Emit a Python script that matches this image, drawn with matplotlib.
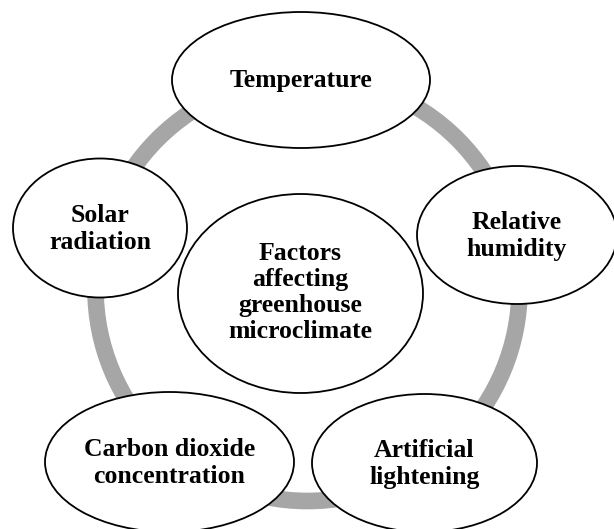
import matplotlib
matplotlib.use("Agg")
import matplotlib.pyplot as plt
from matplotlib.patches import Ellipse, Circle

# Node labels
center_label = "Factors\naffecting\ngreenhouse\nmicroclimate"
factor_labels = [
    "Temperature",
    "Relative\nhumidity",
    "Artificial\nlightening",
    "Carbon dioxide\nconcentration",
    "Solar\nradiation",
]

# Layout (pixel coordinates, y downward)
factor_cx = [301, 517, 424.5, 169.5, 100]
factor_cy = [80, 235, 463, 462, 228]
factor_w = [258, 200, 225, 249, 174]
factor_h = [136, 138, 138, 140, 139]
center_xy = (300.5, 293.5)
center_wh = (245, 199)
ring_xy = (307.5, 289)
ring_r = 212

W, H = 614, 529
fig = plt.figure(figsize=(W / 100, H / 100), dpi=100)
ax = fig.add_axes([0, 0, 1, 1])
ax.set_xlim(0, W)
ax.set_ylim(H, 0)
ax.axis("off")

ax.add_patch(Circle(ring_xy, ring_r, fill=False, edgecolor="#a6a6a6",
                    linewidth=12.0, zorder=1))

font = dict(family="Liberation Serif", fontweight="bold", fontsize=18.5,
            ha="center", va="center", linespacing=1.17, zorder=5)

ax.add_patch(Ellipse(center_xy, center_wh[0], center_wh[1], facecolor="white",
                     edgecolor="black", linewidth=1.3, zorder=2))
ax.text(center_xy[0], center_xy[1] - 1, center_label, **font)

for lab, cx, cy, w, h in zip(factor_labels, factor_cx, factor_cy, factor_w, factor_h):
    ax.add_patch(Ellipse((cx, cy), w, h, facecolor="white", edgecolor="black",
                         linewidth=1.3, zorder=3))
    ax.text(cx, cy + 1, lab, **font)

fig.savefig("out.png", dpi=100)
